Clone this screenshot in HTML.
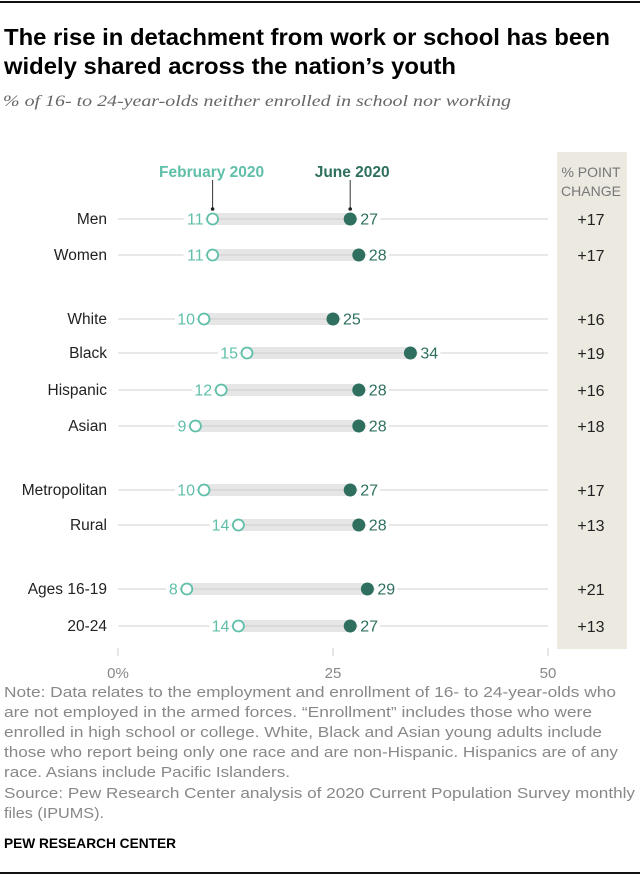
<!DOCTYPE html>
<html><head><meta charset="utf-8"><style>
body{margin:0;background:#fff;}
svg{display:block;font-family:"Liberation Sans",sans-serif;}
</style></head><body>
<svg id="chart" width="640" height="876" viewBox="0 0 640 876" xmlns="http://www.w3.org/2000/svg">
<rect x="0" y="1" width="640" height="2" fill="#111"/>
<text x="4" y="45" font-size="23" font-weight="bold" fill="#000" textLength="606" lengthAdjust="spacingAndGlyphs">The rise in detachment from work or school has been</text>
<text x="4" y="74" font-size="23" font-weight="bold" fill="#000" textLength="452" lengthAdjust="spacingAndGlyphs">widely shared across the nation’s youth</text>
<text x="3" y="106" font-size="16" font-style="italic" fill="#666" font-family="Liberation Serif, serif" textLength="508" lengthAdjust="spacingAndGlyphs">% of 16- to 24-year-olds neither enrolled in school nor working</text>
<rect x="557" y="152" width="70" height="497" fill="#ece9e1"/>
<text x="591" y="177" font-size="14" fill="#777" text-anchor="middle">% POINT</text>
<text x="591" y="196" font-size="14" fill="#777" text-anchor="middle">CHANGE</text>
<g id="plot"></g>
<g font-size="15" fill="#888" lengthAdjust="spacingAndGlyphs">
<text x="4" y="697" textLength="612" lengthAdjust="spacingAndGlyphs">Note: Data relates to the employment and enrollment of 16- to 24-year-olds who</text>
<text x="4" y="717" textLength="588" lengthAdjust="spacingAndGlyphs">are not employed in the armed forces. “Enrollment” includes those who were</text>
<text x="4" y="737" textLength="598" lengthAdjust="spacingAndGlyphs">enrolled in high school or college. White, Black and Asian young adults include</text>
<text x="4" y="757" textLength="614" lengthAdjust="spacingAndGlyphs">those who report being only one race and are non-Hispanic. Hispanics are of any</text>
<text x="4" y="777" textLength="286" lengthAdjust="spacingAndGlyphs">race. Asians include Pacific Islanders.</text>
<text x="4" y="798" textLength="631" lengthAdjust="spacingAndGlyphs">Source: Pew Research Center analysis of 2020 Current Population Survey monthly</text>
<text x="4" y="818" textLength="100" lengthAdjust="spacingAndGlyphs">files (IPUMS).</text>
</g>
<text x="4" y="848" font-size="14" font-weight="bold" fill="#000" textLength="172" lengthAdjust="spacingAndGlyphs">PEW RESEARCH CENTER</text>
<rect x="0" y="872" width="640" height="2" fill="#111"/>
</svg>
<script>
const categories=["Men","Women","White","Black","Hispanic","Asian","Metropolitan","Rural","Ages 16-19","20-24"];
const feb2020=[11,11,10,15,12,9,10,14,8,14];
const jun2020=[27,28,25,34,28,28,27,28,29,27];
const changeLabels=["+17","+17","+16","+19","+16","+18","+17","+13","+21","+13"];
const axisTicks=[0,25,50];
const tickLabels=["0%","25","50"];
const rowY=[219,255,319,353,390,426,490,525,589,626];
const NS="http://www.w3.org/2000/svg";
const X0=118,X1=548;
function xs(v){return X0+(X1-X0)*v/50;}
const g=document.getElementById('plot');
function mk(tag,attrs,txt){const e=document.createElementNS(NS,tag);for(const k in attrs)e.setAttribute(k,attrs[k]);if(txt!==undefined)e.textContent=txt;g.appendChild(e);return e;}
const LIGHT="#5fbfa9",DARK="#2e6f5f";
axisTicks.forEach((t,i)=>{
 const l=mk('line',{x1:xs(t),x2:xs(t),y1:648,y2:656,stroke:"#ccc","stroke-width":1});
 
 
 const tx=mk('text',{x:xs(t),y:678,"font-size":15,fill:"#888","text-anchor":"middle"},tickLabels[i]);
 
 
});
categories.forEach((c,i)=>{
 const y=rowY[i],xf=xs(feb2020[i]),xj=xs(jun2020[i]);
 const gl=mk('line',{x1:X0,x2:X1,y1:y,y2:y,stroke:"#d0d0d0","stroke-width":1});
 
 
 const band=mk('rect',{x:Math.min(xf,xj),y:y-6,width:Math.abs(xj-xf),height:12,fill:"#e6e6e6"});
 
 
 mk('line',{x1:xf,x2:xj,y1:y,y2:y,stroke:"#cfcfcf","stroke-width":1});
 const lab=mk('text',{x:107,y:y+5,"font-size":15.5,fill:"#222","text-anchor":"end"},c);
 
 
 const fl=String(feb2020[i]);
 const fw=fl.length*8.5+4;
 mk('rect',{x:xf-8-fw,y:y-8,width:fw,height:16,fill:"#fff"});
 const ft=mk('text',{x:xf-9,y:y+5.5,"font-size":16,fill:LIGHT,"text-anchor":"end"},fl);
 
 
 const jl=String(jun2020[i]);
 mk('rect',{x:xj+8,y:y-8,width:jl.length*9+4,height:16,fill:"#fff"});
 const jt=mk('text',{x:xj+10,y:y+5.5,"font-size":16,fill:DARK},jl);
 
 
 const cf=mk('circle',{cx:xf,cy:y,r:5.5,fill:"#fff",stroke:LIGHT,"stroke-width":1.8});
 
 
 const cj=mk('circle',{cx:xj,cy:y,r:6.5,fill:DARK});
 
 
 const ch=mk('text',{x:591,y:y+6,"font-size":16,fill:"#222","text-anchor":"middle"},changeLabels[i]);
 
 
});
const lf=xs(feb2020[0]),lj=xs(jun2020[0]);
mk('line',{x1:lf,x2:lf,y1:180,y2:209,stroke:"#333","stroke-width":1});
mk('circle',{cx:lf,cy:209,r:1.8,fill:"#222"});
mk('line',{x1:lj,x2:lj,y1:180,y2:209,stroke:"#333","stroke-width":1});
mk('circle',{cx:lj,cy:209,r:1.8,fill:"#222"});
const lg1=mk('text',{x:lf-1,y:177,"font-size":15.5,"font-weight":"bold",fill:LIGHT,"text-anchor":"middle"},"February 2020");


const lg2=mk('text',{x:lj+2,y:177,"font-size":15.5,"font-weight":"bold",fill:DARK,"text-anchor":"middle"},"June 2020");


</script>
</body></html>
